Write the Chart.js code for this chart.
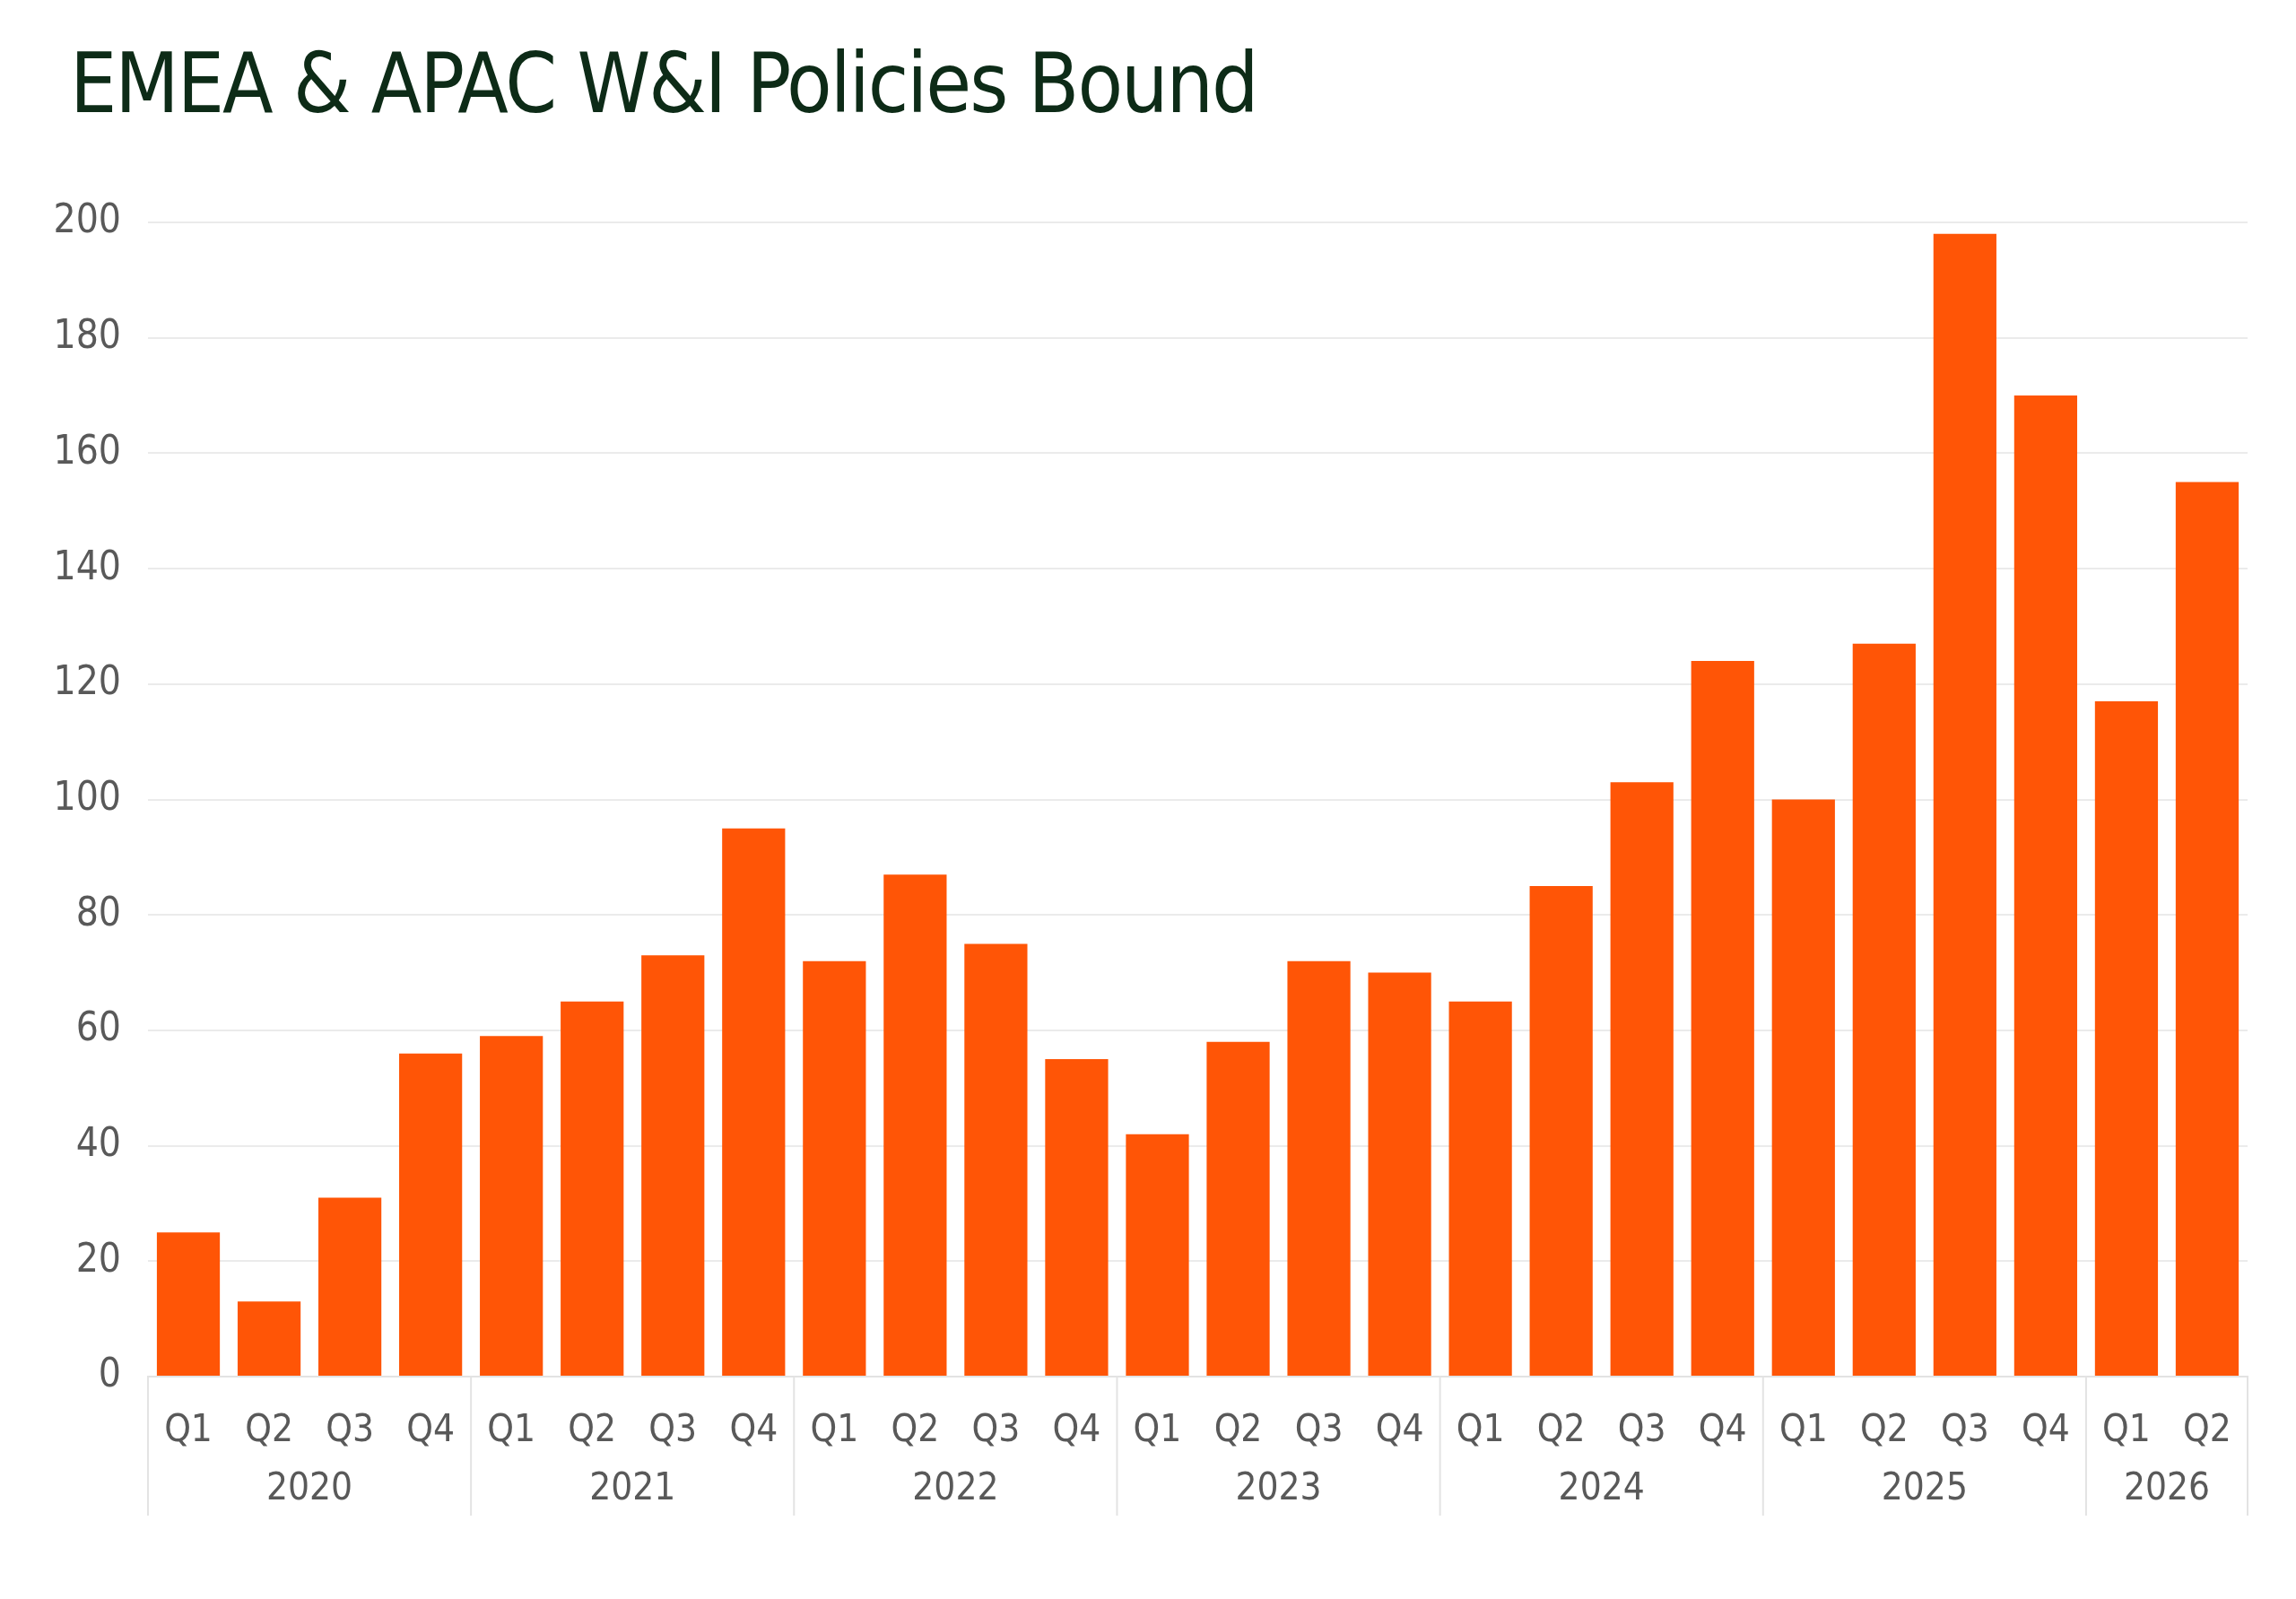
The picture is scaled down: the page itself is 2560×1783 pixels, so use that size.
<!DOCTYPE html>
<html>
<head>
<meta charset="utf-8">
<script src="https://cdn.jsdelivr.net/npm/chart.js"></script>
<style>
  html, body { margin: 0; padding: 0; background: #fff; }
  #wrap { position: relative; width: 2560px; height: 1783px; }
  h1 {
    position: absolute; left: 78px; top: 40px; margin: 0;
    font-family: "DejaVu Sans Condensed", "DejaVu Sans", sans-serif;
    font-weight: normal; font-size: 92px; color: #0d2b17; letter-spacing: -2px;
  }
  canvas { position: absolute; left: 0; top: 0; }
</style>
</head>
<body>
<div id="wrap">
  <h1>EMEA &amp; APAC W&amp;I Policies Bound</h1>
  <canvas id="chart" width="2560" height="1783"></canvas>
</div>
<script>
// Data
const quarters = ['Q1','Q2','Q3','Q4','Q1','Q2','Q3','Q4','Q1','Q2','Q3','Q4','Q1','Q2','Q3','Q4','Q1','Q2','Q3','Q4','Q1','Q2','Q3','Q4','Q1','Q2'];
const years = ['2020','2021','2022','2023','2024','2025','2026'];
const quartersPerYear = [4, 4, 4, 4, 4, 4, 2];
const policies = [25,13,31,56, 59,65,73,95, 72,87,75,55, 42,58,72,70, 65,85,103,124, 100,127,198,170, 117,155];

const FONT = '"DejaVu Sans Condensed", "DejaVu Sans", sans-serif';

// year row + separators under the quarter labels
const yearGroups = {
  id: 'yearGroups',
  afterDraw(chart) {
    const x = chart.scales.x;
    const ctx = chart.ctx;
    const half = (x.getPixelForValue(1) - x.getPixelForValue(0)) / 2;
    const top = chart.chartArea.bottom;
    ctx.save();
    ctx.strokeStyle = '#e3e3e3';
    ctx.lineWidth = 2;
    ctx.fillStyle = '#595959';
    ctx.font = '42px ' + FONT;
    ctx.textAlign = 'center';
    ctx.textBaseline = 'middle';
    let start = 0;
    const drawSep = px => { ctx.beginPath(); ctx.moveTo(px, top); ctx.lineTo(px, 1690); ctx.stroke(); };
    drawSep(x.getPixelForValue(0) - half);
    years.forEach((yr, i) => {
      const end = start + quartersPerYear[i] - 1;
      const cx = (x.getPixelForValue(start) + x.getPixelForValue(end)) / 2;
      ctx.fillText(yr, cx, 1661);
      drawSep(x.getPixelForValue(end) + half);
      start = end + 1;
    });
    ctx.restore();
  }
};

new Chart(document.getElementById('chart'), {
  type: 'bar',
  data: {
    labels: quarters,
    datasets: [{
      data: policies,
      backgroundColor: '#ff5506',
      categoryPercentage: 1,
      barPercentage: 0.78
    }]
  },
  options: {
    responsive: false,
    animation: false,
    layout: { padding: { top: 248, right: 54, left: 0, bottom: 0 } },
    plugins: { legend: { display: false }, tooltip: { enabled: false } },
    scales: {
      x: {
        grid: { display: false },
        border: { color: '#e3e3e3', width: 2 },
        ticks: { color: '#595959', font: { family: FONT, size: 42 }, padding: 28, maxRotation: 0, autoSkip: false },
        afterFit: s => { s.height = 248; }
      },
      y: {
        min: 0, max: 200,
        grid: { color: '#ebebeb', lineWidth: 2, drawTicks: false },
        border: { display: false },
        ticks: { stepSize: 20, color: '#595959', font: { family: FONT, size: 44 }, padding: 30 },
        afterFit: s => { s.width = 165; }
      }
    }
  },
  plugins: [yearGroups]
});
</script>
</body>
</html>
